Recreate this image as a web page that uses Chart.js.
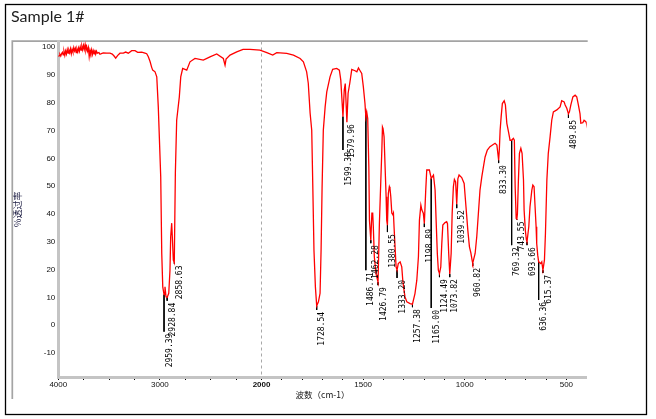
<!DOCTYPE html>
<html>
<head>
<meta charset="utf-8">
<script src="https://cdn.jsdelivr.net/npm/chart.js@4.4.1/dist/chart.umd.min.js"></script>
<style>
  html, body { margin: 0; padding: 0; background: #fff; }
  canvas { display: block; }
</style>
</head>
<body>
<canvas id="ir-chart" width="656" height="419"></canvas>
<script>
// spectrum (cm-1 / %T)
var wavenumber = [
  4000, 3992, 3984, 3976, 3968, 3960, 3952, 3944, 3936, 3928, 3920, 3912, 3904, 3896, 3888, 3880,
  3872, 3864, 3856, 3848, 3840, 3832, 3824, 3816, 3808, 3800, 3792, 3784, 3776, 3768, 3760, 3752,
  3744, 3736, 3728, 3720, 3712, 3704, 3696, 3688, 3680, 3672, 3664, 3656, 3648, 3640, 3632, 3624,
  3616, 3600, 3590, 3570, 3557, 3524, 3491, 3469, 3449, 3435, 3415, 3393, 3360, 3337, 3311, 3278,
  3245, 3219, 3179, 3147, 3130, 3114, 3097, 3081, 3071, 3048, 3031, 3016, 2992, 2982, 2972, 2959.39,
  2950, 2940, 2928.84, 2913, 2901, 2894, 2884, 2878, 2868, 2858.63, 2848, 2835, 2809, 2795, 2776, 2736,
  2704, 2655, 2573, 2507, 2441, 2376, 2359, 2349, 2310, 2244, 2182, 2113, 2015, 1974, 1945, 1925,
  1876, 1843, 1810, 1794, 1778, 1770, 1761, 1753, 1748, 1742, 1735, 1728.54, 1720, 1712, 1707, 1702,
  1696, 1687, 1679, 1663, 1650, 1630, 1617, 1610, 1599.38, 1593, 1588, 1579.96, 1574, 1566, 1556, 1540,
  1531, 1523, 1515, 1507, 1499, 1491, 1486.71, 1482.5, 1477.5, 1472, 1469, 1462.28, 1457, 1453, 1450, 1445,
  1437, 1426.79, 1420, 1413, 1408, 1405, 1402, 1397, 1392, 1387, 1384, 1380.55, 1376, 1371, 1368, 1364,
  1359, 1354, 1351, 1348, 1343, 1338, 1333.2, 1327, 1318, 1310, 1305, 1299, 1294, 1285, 1269, 1257.38,
  1245, 1236, 1228, 1223, 1216, 1211, 1204, 1198.89, 1192, 1187, 1174, 1165, 1154, 1146, 1141, 1135,
  1130, 1124.49, 1118, 1113, 1108, 1097, 1089, 1085, 1079, 1073.82, 1067, 1062, 1056, 1051, 1045, 1039.52,
  1034, 1028, 1015, 1003, 994, 985, 977, 970, 964, 960.82, 949, 941, 933, 925, 916, 908,
  900, 889, 876, 851, 842, 833.3, 830, 826, 821, 815, 806, 800, 793, 785, 777, 769.32,
  761, 756, 752, 747, 743.55, 741, 736, 731, 724, 718, 711, 708, 702, 697, 693.66, 685,
  679, 670, 665, 659, 654, 649, 646, 641, 636.36, 626, 621, 615.37, 608, 603, 596, 589,
  580, 572, 564, 547, 531, 523, 511, 506, 498, 489.85, 485, 478, 468, 457, 449, 441,
  433, 429, 419, 413, 403, 400
];
var transmit = [
  96.6, 96.9, 97.4, 96.8, 97.6, 98.1, 97.2, 98.4, 97.0, 98.6, 97.5, 99.1, 97.8, 98.9, 98.0, 99.4,
  97.6, 99.2, 98.2, 99.8, 98.6, 99.5, 98.0, 99.3, 98.3, 99.7, 98.5, 100.1, 98.9, 100.3, 99.0, 100.6,
  99.2, 100.9, 98.8, 100.0, 98.6, 99.8, 96.6, 98.9, 97.8, 99.1, 97.4, 98.7, 97.6, 99.0, 97.5, 98.5,
  97.8, 98.0, 97.4, 97.7, 97.9, 97.8, 97.8, 97.5, 96.7, 96.0, 97.0, 97.8, 97.8, 98.2, 97.8, 98.7,
  98.7, 98.1, 98.2, 97.8, 97.6, 96.5, 94.8, 92.7, 91.7, 91.1, 89.3, 78.5, 53.3, 25.9, 13.8, 11.0,
  13.8, 10.2, 10.0, 11.5, 19.8, 31.8, 36.7, 31.8, 23.4, 22.5, 54.7, 73.7, 82.1, 89.3, 92.3, 91.7,
  94.7, 95.9, 95.3, 96.5, 97.5, 95.9, 93.5, 95.7, 97.1, 98.3, 99.2, 99.2, 98.9, 98.0, 97.1, 98.0,
  97.7, 97.1, 95.9, 94.7, 91.1, 87.0, 76.3, 70.1, 51.0, 27.0, 13.8, 7.0, 8.4, 11.5, 27.0, 49.7,
  70.1, 78.5, 83.9, 89.3, 92.0, 92.3, 91.7, 88.1, 75.0, 84.5, 86.9, 73.0, 83.4, 86.9, 92.0, 91.5,
  91.1, 92.5, 91.5, 90.5, 85.7, 79.7, 74.9, 76.7, 74.3, 56.9, 37.8, 30.6, 40.3, 40.3, 35.4, 24.6,
  18.6, 15.5, 36.7, 52.2, 63.0, 71.3, 70.7, 67.7, 56.9, 46.2, 37.8, 36.0, 47.4, 49.8, 49.2, 46.2,
  40.3, 39.7, 40.3, 35.4, 28.2, 21.0, 19.8, 22.2, 22.8, 21.0, 16.2, 12.6, 10.2, 8.4, 7.8, 7.6,
  11.4, 16.2, 24.6, 37.8, 43.2, 41.4, 40.3, 36.6, 48.6, 55.8, 55.8, 52.8, 54.0, 48.6, 37.8, 25.8,
  19.8, 18.6, 21.0, 29.4, 36.0, 36.9, 37.2, 36.5, 25.8, 18.4, 25.8, 40.2, 49.8, 52.4, 51.5, 43.5,
  52.6, 54.0, 53.1, 51.0, 42.6, 34.2, 28.2, 26.0, 23.4, 22.3, 25.8, 31.8, 40.2, 48.6, 53.4, 57.0,
  60.5, 63.0, 64.2, 65.4, 64.8, 59.3, 63.0, 70.1, 74.9, 79.7, 80.7, 79.2, 72.6, 69.6, 66.5, 66.5,
  67.2, 66.5, 49.7, 38.4, 38.2, 40.0, 52.2, 61.8, 63.6, 61.8, 52.2, 41.4, 34.2, 30.8, 30.0, 35.4,
  42.6, 48.6, 50.4, 49.8, 42.6, 35.4, 29.4, 25.2, 22.8, 22.2, 22.8, 19.8, 23.4, 33.0, 52.2, 61.8,
  67.8, 73.7, 76.7, 77.4, 78.5, 80.7, 80.3, 79.2, 78.0, 76.0, 76.7, 79.2, 82.1, 82.7, 82.1, 79.2,
  76.1, 72.6, 72.8, 73.7, 73.1, 72.2
];

// picked peaks: where the lead leaves the curve, and where it stops above the label
var peakWn = [2959.39, 2928.84, 2858.63, 1728.54, 1599.38, 1579.96, 1486.71, 1462.28, 1426.79,
  1380.55, 1333.20, 1257.38, 1198.89, 1165.00, 1124.49, 1073.82, 1039.52, 960.82, 833.30,
  769.32, 743.55, 693.66, 636.36, 615.37, 489.85];
var peakTop = [11, 10, 22.5, 7, 75, 73, 76.8, 30.6, 15.5, 36, 19.8, 7.6, 36.6, 52.8, 18.6,
  18.4, 43.5, 22.3, 59.3, 66.5, 38.2, 30, 22.8, 19.8, 76];
var peakLabelAt = [-2.3, 8.8, 22.2, 5.5, 63, 73, 19.8, 29.5, 14.4, 33.5, 17, 6.5, 35.3, 6.2, 17.3,
  17.3, 42.1, 21.3, 58.3, 28.8, 38, 28.8, 9.1, 18.8, 74.5];

var xMajor = [4000, 3000, 2000, 1500, 1000, 500];
var xMinor = [3750, 3500, 3250, 2750, 2500, 2250, 1900, 1800, 1700, 1600, 1400, 1300, 1200, 1100,
  900, 800, 700, 600];
var yTicks = [100, 90, 80, 70, 60, 50, 40, 30, 20, 10, 0, -10];

// the wavenumber axis is drawn at double scale below 2000 cm-1
function axisPos(w) { return w >= 2000 ? 4000 - w : 2000 + 2 * (2000 - w); }
function axisVal(u) { return u <= 2000 ? 4000 - u : 2000 - (u - 2000) / 2; }
var SPAN = axisPos(400);

class SplitScale extends Chart.LinearScale {
  static id = 'split';
  static defaults = Chart.LinearScale.defaults;
  getPixelForValue(v) { return this.getPixelForDecimal(axisPos(v) / SPAN); }
  getValueForPixel(p) { return axisVal(this.getDecimalForPixel(p) * SPAN); }
}
Chart.register(SplitScale);

var spectrum = wavenumber.map(function (w, i) { return {x: w, y: transmit[i]}; });
var leads = [];
peakWn.forEach(function (w, i) {
  leads.push({x: w, y: peakTop[i]}, {x: w, y: peakLabelAt[i]}, {x: w, y: null});
});

var frame = {
  id: 'frame',
  beforeDraw: function (chart) {
    var c = chart.ctx;
    c.save();
    c.fillStyle = '#fff';
    c.fillRect(0, 0, chart.width, chart.height);
    c.strokeStyle = '#000';
    c.lineWidth = 1.3;
    c.strokeRect(5.5, 4.5, 641, 410);
    c.strokeStyle = '#a4a4a4';
    c.lineWidth = 1.7;
    c.beginPath();
    c.moveTo(12.3, 399);
    c.lineTo(12.3, 41.2);
    c.lineTo(chart.chartArea.right + 1, 41.2);
    c.stroke();
    c.restore();
  }
};

var peakText = {
  id: 'peakText',
  afterDatasetsDraw: function (chart) {
    var c = chart.ctx, xs = chart.scales.x, ys = chart.scales.y;
    c.save();
    c.fillStyle = '#000';
    c.font = '8px "DejaVu Sans Mono"';
    c.textAlign = 'right';
    c.textBaseline = 'middle';
    peakWn.forEach(function (w, i) {
      c.save();
      c.translate(xs.getPixelForValue(w) + 5.5, ys.getPixelForValue(peakLabelAt[i]) + 2);
      c.rotate(-Math.PI / 2);
      c.fillText(w.toFixed(2), 0, 0);
      c.restore();
    });
    c.restore();
  }
};

var tickFont = {family: 'Liberation Sans', size: 8};

new Chart(document.getElementById('ir-chart'), {
  type: 'line',
  data: {
    datasets: [
      {
        label: 'Sample 1#',
        data: spectrum,
        borderColor: '#ff0000',
        borderWidth: 1.3,
        pointRadius: 0,
        tension: 0
      },
      {
        label: 'peaks',
        data: leads,
        borderColor: '#000',
        borderWidth: 1,
        pointRadius: 0,
        spanGaps: false
      }
    ]
  },
  options: {
    responsive: false,
    animation: false,
    events: [],
    layout: {padding: {left: 11, right: 69.3, top: 0, bottom: 0}},
    plugins: {
      legend: {display: false},
      tooltip: {enabled: false},
      title: {
        display: true,
        text: 'Sample 1#',
        align: 'start',
        color: '#1e1e1e',
        font: {family: 'Lato', size: 16, weight: 'normal'},
        padding: {top: 7, bottom: 15.3}
      }
    },
    scales: {
      x: {
        type: 'split',
        min: 400,
        max: 4000,
        afterFit: function (s) { s.height = 42; },
        afterBuildTicks: function (s) {
          s.ticks = xMajor.concat(xMinor).sort(function (a, b) { return b - a; })
            .map(function (v) { return {value: v}; });
        },
        grid: {
          color: function (c) { return c.tick && c.tick.value === 2000 ? '#a8a8a8' : 'rgba(0,0,0,0)'; },
          lineWidth: 1,
          drawTicks: true,
          tickLength: 3,
          tickColor: '#000',
          tickWidth: 1
        },
        border: {display: true, color: '#c4c4c4', width: 3, dash: [3, 3]},
        ticks: {
          autoSkip: false,
          maxRotation: 0,
          padding: 0,
          color: '#111',
          font: function (c) {
            return c.tick && c.tick.value === 2000 ?
              {family: tickFont.family, size: tickFont.size, weight: 'bold'} : tickFont;
          },
          callback: function (v) { return xMajor.indexOf(v) >= 0 ? String(v) : ''; }
        },
        title: {
          display: true,
          text: '波数（cm-1）',
          color: '#111',
          font: {family: 'Noto Sans CJK SC', size: 8.5},
          padding: {top: 0, bottom: 19}
        }
      },
      y: {
        min: -18.6,
        max: 102,
        afterFit: function (s) { s.width = 47.3; },
        afterBuildTicks: function (s) {
          s.ticks = yTicks.map(function (v) { return {value: v}; });
        },
        grid: {display: false, drawTicks: false},
        border: {display: true, color: '#c4c4c4', width: 3},
        ticks: {padding: 3, color: '#111', font: tickFont},
        title: {
          display: true,
          text: '%透过率',
          color: '#1a1a40',
          font: {family: 'Noto Sans CJK SC', size: 9},
          padding: {top: 1, bottom: 0}
        }
      }
    }
  },
  plugins: [frame, peakText]
});
</script>
</body>
</html>
